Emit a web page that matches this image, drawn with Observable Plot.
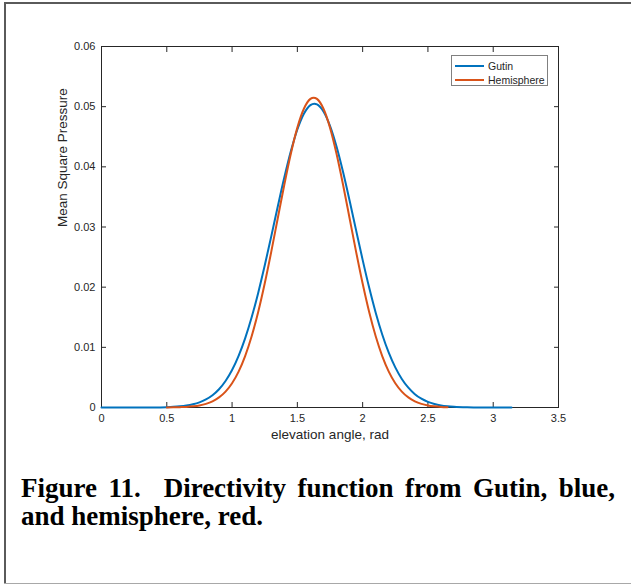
<!DOCTYPE html>
<html>
<head>
<meta charset="utf-8">
<script src="https://cdn.jsdelivr.net/npm/d3@7"></script>
<script src="https://cdn.jsdelivr.net/npm/@observablehq/plot@0.6"></script>
<style>
html, body { margin: 0; padding: 0; background: #fff; }
#page { position: relative; width: 631px; height: 585px; overflow: hidden; background: #fff; }
#chart { position: absolute; left: 0; top: 0; }
.bline { position: absolute; }
#legend { position: absolute; left: 451px; top: 55px; width: 97px; height: 31px; box-sizing: border-box;
  border: 1px solid #808080; background: #fff; font-family: "Liberation Sans", Arial, sans-serif; font-size: 10.5px; color: #262626; }
.lrow { position: absolute; left: 0; width: 100%; height: 14px; }
.lsw { position: absolute; left: 3px; width: 29px; top: 6px; height: 2px; }
.ltx { position: absolute; left: 36px; top: 0; line-height: 14px; white-space: nowrap; }
#caption { position: absolute; left: 21px; top: 474px; width: 594px; font-family: "Liberation Serif", "Times New Roman", serif;
  font-weight: bold; font-size: 27px; line-height: 28px; color: #000; text-align: justify; text-align-last: left; }
</style>
</head>
<body>
<div id="page">
  <div id="chart"></div>
  <div id="legend"></div>
  <div id="caption"></div>
  <div class="bline" style="left:4px; top:2px; width:2px; height:582px; background:#5a5a5a;"></div>
  <div class="bline" style="left:4px; top:2px; width:627px; height:2px; background:#5a5a5a;"></div>
  <div class="bline" style="left:4px; top:583px; width:627px; height:1px; background:#a8a8a8;"></div>
</div>
<script>
// ---- data ----
const seriesNames = ["Gutin", "Hemisphere"];
const seriesColors = ["#0072BD", "#D95319"];

const gutinAngle = [0, 0.1, 0.2, 0.3, 0.4, 0.5, 0.55, 0.6, 0.65, 0.7, 0.75, 0.8, 0.85, 0.9, 0.95,
  1.0, 1.05, 1.1, 1.15, 1.2, 1.25, 1.3, 1.35, 1.4, 1.45, 1.5, 1.55, 1.6, 1.63, 1.65, 1.7, 1.75,
  1.8, 1.85, 1.9, 1.95, 2.0, 2.05, 2.1, 2.15, 2.2, 2.25, 2.3, 2.35, 2.4, 2.45, 2.5, 2.55, 2.6,
  2.65, 2.7, 2.8, 2.9, 3.0, 3.1, 3.14];
const gutinMSP = [0, 0, 0, 0, 0.00001, 0.00006, 0.00011, 0.00019, 0.00032, 0.00053, 0.00085, 0.00134,
  0.00204, 0.00304, 0.00441, 0.00623, 0.00858, 0.01149, 0.01499, 0.01905, 0.02359, 0.02844, 0.03341,
  0.03821, 0.04257, 0.0462, 0.04882, 0.05026, 0.0505, 0.05039, 0.04921, 0.04681, 0.04337, 0.03913,
  0.03439, 0.02944, 0.02454, 0.01993, 0.01576, 0.01214, 0.00911, 0.00666, 0.00474, 0.00329, 0.00222,
  0.00146, 0.00093, 0.00058, 0.00035, 0.00021, 0.00012, 0.00003, 0, 0, 0, 0];

const hemiAngle = [0.5, 0.55, 0.6, 0.65, 0.7, 0.75, 0.8, 0.85, 0.9, 0.95, 1.0, 1.05, 1.1, 1.15, 1.2,
  1.25, 1.3, 1.35, 1.4, 1.45, 1.5, 1.55, 1.6, 1.625, 1.65, 1.7, 1.75, 1.8, 1.85, 1.9, 1.95, 2.0,
  2.05, 2.1, 2.15, 2.2, 2.25, 2.3, 2.35, 2.4, 2.45, 2.5, 2.55, 2.6, 2.65];
const hemiMSP = [0.00001, 0.00003, 0.00006, 0.0001, 0.0002, 0.00035, 0.00061, 0.00103, 0.00168, 0.00265,
  0.00404, 0.00597, 0.00855, 0.01184, 0.01587, 0.0206, 0.02587, 0.03146, 0.03703, 0.04218, 0.04652,
  0.04965, 0.05129, 0.0515, 0.05129, 0.04965, 0.04652, 0.04218, 0.03703, 0.03146, 0.02587, 0.0206,
  0.01587, 0.01184, 0.00855, 0.00597, 0.00404, 0.00265, 0.00168, 0.00103, 0.00061, 0.00035, 0.0002,
  0.0001, 0.00006];

const xTicks = [0, 0.5, 1, 1.5, 2, 2.5, 3, 3.5];
const yTicks = [0, 0.01, 0.02, 0.03, 0.04, 0.05, 0.06];
const xLabel = "elevation angle, rad";
const yLabel = "Mean Square Pressure";
const captionText = "Figure 11.\u00a0 Directivity function from Gutin, blue, and hemisphere, red.";

// ---- build ----
const gutin = gutinAngle.map((a, i) => ({angle: a, value: gutinMSP[i]}));
const hemi = hemiAngle.map((a, i) => ({angle: a, value: hemiMSP[i]}));

const axisColor = "#262626";
const plot = Plot.plot({
  width: 631,
  height: 460,
  marginLeft: 101,
  marginRight: 73,
  marginTop: 46,
  marginBottom: 53,
  style: {fontFamily: '"Liberation Sans", Arial, sans-serif', fontSize: "11px", color: axisColor, background: "transparent"},
  x: {domain: [0, 3.5]},
  y: {domain: [0, 0.06]},
  marks: [
    Plot.frame({stroke: axisColor, strokeWidth: 1}),
    Plot.axisX({anchor: "bottom", ticks: xTicks, tickSize: -5, tickPadding: 12, tickFormat: d => String(d), label: null, stroke: axisColor}),
    Plot.axisX({anchor: "top", ticks: xTicks, tickSize: -5, tickFormat: () => "", label: null, stroke: axisColor}),
    Plot.axisY({anchor: "left", ticks: yTicks, tickSize: -5, tickPadding: 11, tickFormat: d => String(d), label: null, stroke: axisColor}),
    Plot.axisY({anchor: "right", ticks: yTicks, tickSize: -5, tickFormat: () => "", label: null, stroke: axisColor}),
    Plot.line(gutin, {x: "angle", y: "value", stroke: seriesColors[0], strokeWidth: 2, curve: "monotone-x"}),
    Plot.line(hemi, {x: "angle", y: "value", stroke: seriesColors[1], strokeWidth: 2, curve: "monotone-x"}),
    Plot.text([xLabel], {frameAnchor: "bottom", dy: 31, text: d => d, fontSize: 13.5, fill: axisColor}),
    Plot.text([yLabel], {frameAnchor: "left", dx: -39, rotate: -90, text: d => d, fontSize: 13.5, fill: axisColor})
  ]
});
document.getElementById("chart").appendChild(plot);

const legend = document.getElementById("legend");
seriesNames.forEach((name, i) => {
  const row = document.createElement("div");
  row.className = "lrow";
  row.style.top = (3 + i * 14) + "px";
  const sw = document.createElement("div");
  sw.className = "lsw";
  sw.style.background = seriesColors[i];
  const tx = document.createElement("div");
  tx.className = "ltx";
  tx.textContent = name;
  row.appendChild(sw);
  row.appendChild(tx);
  legend.appendChild(row);
});

document.getElementById("caption").textContent = captionText;
</script>
</body>
</html>
